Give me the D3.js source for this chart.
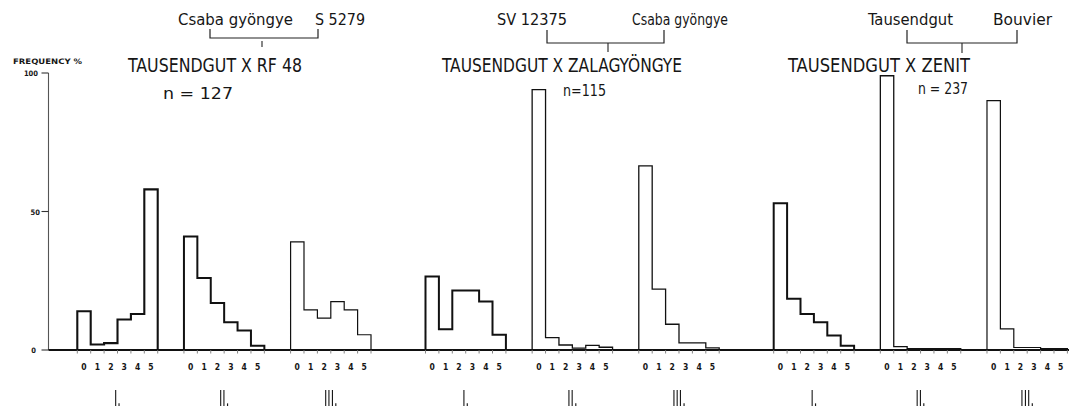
<!DOCTYPE html>
<html>
<head>
<meta charset="utf-8">
<script src="https://cdn.jsdelivr.net/npm/d3@7"></script>
<style>
  html, body { margin: 0; padding: 0; background: #fff; }
  svg { display: block; }
  text { fill: #161616; font-family: "DejaVu Sans Condensed", "DejaVu Sans", sans-serif; }
  .numeral { opacity: 0.99; will-change: opacity; }
</style>
</head>
<body>
<svg id="chart" width="1069" height="411"></svg>
<script>
// Frequency classes (score 0-5) shown under every histogram
const bins = ["0", "1", "2", "3", "4", "5"];
// Crosses and their parents
const crosses = ["TAUSENDGUT X RF 48", "TAUSENDGUT X ZALAGYÖNGYE", "TAUSENDGUT X ZENIT"];
const sampleSizes = ["n = 127", "n=115", "n = 237"];
const motherParents = ["Csaba gyöngye", "SV 12375", "Tausendgut"];
const fatherParents = ["S 5279", "Csaba gyöngye", "Bouvier"];
// Three histograms per cross
const panels = ["I.", "II.", "III."];
const yTicks = [0, 50, 100];

// Frequency % per class, cross TAUSENDGUT X RF 48
const rf48I   = [14, 2, 2.5, 11, 13, 58];
const rf48II  = [41, 26, 17, 10, 7, 1.5];
const rf48III = [39, 14.5, 11.5, 17.5, 14.5, 5.5];
// cross TAUSENDGUT X ZALAGYÖNGYE
const zalaI   = [26.5, 7.5, 21.5, 21.5, 17.5, 5.5];
const zalaII  = [94, 4.5, 1.8, 0.7, 1.7, 1];
const zalaIII = [66.5, 22, 9.3, 2.6, 2.6, 0.8];
// cross TAUSENDGUT X ZENIT
const zenitI   = [53, 18.5, 13, 10, 5.2, 1.5];
const zenitII  = [99, 1.2, 0.5, 0.5, 0.5, 0.5];
const zenitIII = [90, 7.6, 0.9, 0.9, 0.5, 0.5];

const seriesByCross = [
  [rf48I, rf48II, rf48III],
  [zalaI, zalaII, zalaIII],
  [zenitI, zenitII, zenitIII]
];

// ---- layout ----
const svg = d3.select("#chart");
const baseY = 350, topY = 73;
const axisX = 48.5;

const y = d3.scaleLinear().domain([0, 100]).range([baseY, topY]);
const xCross = d3.scaleBand().domain(crosses).range([77.3, 1067.4]).paddingInner(0.1565).paddingOuter(0);
const xPanel = d3.scaleBand().domain(panels).range([0, xCross.bandwidth()]).paddingInner(0.246).paddingOuter(0);
const xBin = d3.scaleBand().domain(bins).range([0, xPanel.bandwidth()]).padding(0);

// stroke weight of each histogram outline
const strokeW = [[2.1, 2.0, 1.2], [2.0, 1.3, 1.3], [2.0, 1.3, 1.2]];

// header placement per cross (parents, bracket, title, n)
const header = [
  { left: 235.5, right: 340, bl: 210, br: 318, bTop: 29, bBot: 38, tTop: 41, tBot: 47, mid: 262, title: [128, 302], n: [163, 233], nY: 99, lW: 115, rW: 50 },
  { left: 532, right: 680, bl: 547, br: 664, bTop: 30, bBot: 43, tTop: 43, tBot: 52, mid: 608, title: [442, 682], n: [563, 606], nY: 96, lW: 70, rW: 96 },
  { left: 910.5, right: 1022.5, bl: 907, br: 1017, bTop: 30, bBot: 43, tTop: 43, tBot: 53, mid: 962, title: [788, 970], n: [918, 968], nY: 94, lW: 85, rW: 59 }
];

// ---- y axis ----
const yAxis = svg.append("g");
yAxis.append("line")
  .attr("x1", axisX).attr("x2", axisX)
  .attr("y1", y(100)).attr("y2", y(0))
  .attr("stroke", "#555").attr("stroke-width", 1.1);
yAxis.selectAll("line.tick").data(yTicks).join("line")
  .attr("class", "tick")
  .attr("x1", axisX - 7).attr("x2", axisX)
  .attr("y1", d => y(d)).attr("y2", d => y(d))
  .attr("stroke", "#333").attr("stroke-width", 1.1);
yAxis.selectAll("text").data(yTicks).join("text")
  .attr("x", d => d === 0 ? 36 : (d === 50 ? 40 : 38))
  .attr("y", d => y(d) + 3)
  .attr("text-anchor", "end")
  .attr("font-size", 7.5).attr("font-weight", "bold")
  .text(d => d);
svg.append("text")
  .attr("x", 13).attr("y", 64)
  .attr("font-size", 7.5).attr("font-weight", "bold")
  .attr("textLength", 69).attr("lengthAdjust", "spacingAndGlyphs")
  .text("FREQUENCY %");

// ---- baseline ----
svg.append("line")
  .attr("x1", axisX).attr("x2", 1069)
  .attr("y1", baseY).attr("y2", baseY)
  .attr("stroke", "#111").attr("stroke-width", 1.8);

// ---- histograms ----
const outline = d3.line();
crosses.forEach((cross, ci) => {
  const gx = xCross(cross);
  const g = svg.append("g").attr("transform", `translate(${gx},0)`);

  panels.forEach((panel, pi) => {
    const px = xPanel(panel);
    const vals = seriesByCross[ci][pi];
    const pg = g.append("g").attr("transform", `translate(${px},0)`);

    // step outline of the histogram
    const pts = [[xBin(bins[0]), y(0)]];
    bins.forEach((b, i) => {
      pts.push([xBin(b), y(vals[i])]);
      pts.push([xBin(b) + xBin.bandwidth(), y(vals[i])]);
    });
    pts.push([xBin(bins[bins.length - 1]) + xBin.bandwidth(), y(0)]);
    pg.append("path")
      .attr("d", outline(pts))
      .attr("fill", "none")
      .attr("stroke", "#111")
      .attr("stroke-width", strokeW[ci][pi])
      .attr("stroke-linejoin", "miter");

    // small class-boundary ticks under the baseline
    const edges = bins.map(b => xBin(b)).concat([xPanel.bandwidth()]);
    pg.selectAll("line.edge").data(edges).join("line")
      .attr("class", "edge")
      .attr("x1", d => d).attr("x2", d => d)
      .attr("y1", baseY).attr("y2", baseY + 3.5)
      .attr("stroke", "#777").attr("stroke-width", 0.9);

    // class labels
    pg.selectAll("text.bin").data(bins).join("text")
      .attr("class", "bin")
      .attr("x", d => xBin(d) + xBin.bandwidth() / 2)
      .attr("y", 369.5)
      .attr("text-anchor", "middle")
      .attr("font-size", 8.5).attr("font-weight", "bold")
      .text(d => d);

    // panel numeral, tall and narrow
    const cx = xPanel.bandwidth() / 2;
    const nStrokes = panel.length - 1;
    const w = 3.5 + 3.4 * nStrokes;
    pg.append("text")
      .attr("class", "numeral")
      .attr("x", cx - w / 2).attr("y", 406)
      .attr("font-size", 22)
      .attr("fill", "#000")
      .attr("textLength", w).attr("lengthAdjust", "spacingAndGlyphs")
      .text(panel);
  });

  // header: parents, bracket, cross title and sample size
  const h = header[ci];
  svg.append("text")
    .attr("x", h.left).attr("y", 25)
    .attr("text-anchor", "middle").attr("font-size", 16)
    .attr("textLength", h.lW).attr("lengthAdjust", "spacingAndGlyphs")
    .text(motherParents[ci]);
  svg.append("text")
    .attr("x", h.right).attr("y", 25)
    .attr("text-anchor", "middle").attr("font-size", 16)
    .attr("textLength", h.rW).attr("lengthAdjust", "spacingAndGlyphs")
    .text(fatherParents[ci]);
  svg.append("path")
    .attr("d", d3.line()([[h.bl, h.bTop], [h.bl, h.bBot], [h.br, h.bBot], [h.br, h.bTop]]))
    .attr("fill", "none").attr("stroke", "#222").attr("stroke-width", 1.2);
  svg.append("line")
    .attr("x1", h.mid).attr("x2", h.mid).attr("y1", h.tTop).attr("y2", h.tBot)
    .attr("stroke", "#222").attr("stroke-width", 1.1);
  svg.append("text")
    .attr("x", h.title[0]).attr("y", 72)
    .attr("font-size", 19.5)
    .attr("textLength", h.title[1] - h.title[0]).attr("lengthAdjust", "spacingAndGlyphs")
    .text(cross);
  svg.append("text")
    .attr("x", h.n[0]).attr("y", h.nY)
    .attr("font-size", 16.5)
    .attr("textLength", h.n[1] - h.n[0]).attr("lengthAdjust", "spacingAndGlyphs")
    .text(sampleSizes[ci]);
});
</script>
</body>
</html>
